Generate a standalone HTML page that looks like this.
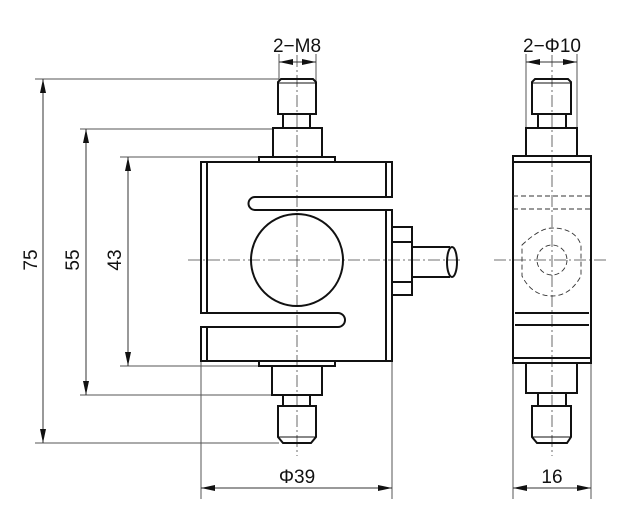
<!DOCTYPE html>
<html><head><meta charset="utf-8"><style>
html,body{margin:0;padding:0;background:#fff;width:622px;height:517px;overflow:hidden}
svg{display:block}
text{font-family:"Liberation Sans",sans-serif;font-size:19px;fill:#111}
</style></head><body>
<svg width="622" height="517" viewBox="0 0 622 517" xmlns="http://www.w3.org/2000/svg">
<defs>
<marker id="a" markerWidth="14" markerHeight="8" refX="14" refY="4" orient="auto" markerUnits="userSpaceOnUse">
<path d="M0,1 L14,4 L0,7 Z" fill="#111"/></marker>
</defs>
<g stroke="#444" stroke-width="0.8" stroke-dasharray="12,3,2,3" fill="none">
<line x1="297" y1="55" x2="297" y2="456"/>
<line x1="188" y1="260" x2="462" y2="260"/>
<line x1="552" y1="55" x2="552" y2="456"/>
<line x1="494" y1="260" x2="608" y2="260"/>
</g>
<g stroke="#555" stroke-width="1" fill="none">
<line x1="35" y1="79" x2="279" y2="79"/>
<line x1="35" y1="443" x2="279" y2="443"/>
<line x1="80" y1="129" x2="273" y2="129"/>
<line x1="80" y1="395" x2="273" y2="395"/>
<line x1="120" y1="157" x2="259" y2="157"/>
<line x1="120" y1="366" x2="259" y2="366"/>
<line x1="279" y1="54" x2="279" y2="82"/>
<line x1="316" y1="54" x2="316" y2="82"/>
<line x1="526" y1="54" x2="526" y2="130"/>
<line x1="577" y1="54" x2="577" y2="130"/>
<line x1="201" y1="362" x2="201" y2="499"/>
<line x1="392" y1="362" x2="392" y2="499"/>
<line x1="513" y1="362" x2="513" y2="499"/>
<line x1="591" y1="362" x2="591" y2="499"/>
</g>
<g stroke="#333" stroke-width="1" fill="none">
<line x1="43" y1="260" x2="43" y2="79" marker-end="url(#a)"/>
<line x1="43" y1="260" x2="43" y2="443" marker-end="url(#a)"/>
<line x1="86" y1="260" x2="86" y2="129" marker-end="url(#a)"/>
<line x1="86" y1="260" x2="86" y2="395" marker-end="url(#a)"/>
<line x1="128" y1="260" x2="128" y2="157" marker-end="url(#a)"/>
<line x1="128" y1="260" x2="128" y2="366" marker-end="url(#a)"/>
<line x1="297" y1="62" x2="279" y2="62" marker-end="url(#a)"/>
<line x1="297" y1="62" x2="316" y2="62" marker-end="url(#a)"/>
<line x1="552" y1="62" x2="526" y2="62" marker-end="url(#a)"/>
<line x1="552" y1="62" x2="577" y2="62" marker-end="url(#a)"/>
<line x1="297" y1="488" x2="201" y2="488" marker-end="url(#a)"/>
<line x1="297" y1="488" x2="392" y2="488" marker-end="url(#a)"/>
<line x1="552" y1="488" x2="513" y2="488" marker-end="url(#a)"/>
<line x1="552" y1="488" x2="591" y2="488" marker-end="url(#a)"/>
</g>
<text x="297" y="52" text-anchor="middle">2−M8</text>
<text x="552" y="52" text-anchor="middle">2−Φ10</text>
<text x="297" y="483" text-anchor="middle">Φ39</text>
<text x="552" y="483" text-anchor="middle">16</text>
<text transform="translate(37,260) rotate(-90)" text-anchor="middle">75</text>
<text transform="translate(79,260) rotate(-90)" text-anchor="middle">55</text>
<text transform="translate(121,260) rotate(-90)" text-anchor="middle">43</text>
<g stroke="#111" stroke-width="2" fill="none">
<path d="M278,114 V82 L281,79 H313 L316,82 V114 Z"/>
<rect x="283" y="114" width="27" height="14"/>
<rect x="273" y="128" width="49" height="29"/>
<rect x="259" y="157" width="76" height="5"/>
<path d="M278,406 V437 L283,443 H311 L316,437 V406 Z"/>
<rect x="283" y="395" width="27" height="11"/>
<rect x="272" y="366" width="50" height="29"/>
<rect x="259" y="361" width="76" height="5"/>
<path d="M201,313 V162 H392 V197 H255 A6.5,6.5 0 0 0 255,210 H392 V361 H201 V327 H338 A7,7 0 0 0 338,313 Z"/>
<line x1="207" y1="162" x2="207" y2="313"/>
<line x1="207" y1="327" x2="207" y2="361"/>
<line x1="386" y1="162" x2="386" y2="197"/>
<line x1="386" y1="210" x2="386" y2="361"/>
<circle cx="297" cy="260" r="46"/>
<rect x="392" y="227" width="20" height="68"/>
<line x1="392" y1="242" x2="412" y2="242"/>
<line x1="392" y1="282" x2="412" y2="282"/>
<path d="M412,247 H450 M412,277 H450"/>
<ellipse cx="452" cy="262" rx="5" ry="15"/>
</g>
<g stroke="#111" stroke-width="1" fill="none">
<line x1="278" y1="83" x2="316" y2="83"/>
<line x1="278" y1="437" x2="316" y2="437"/>
<line x1="532" y1="83" x2="571" y2="83"/>
<line x1="532" y1="437" x2="571" y2="437"/>
</g>
<g stroke="#111" stroke-width="2" fill="none">
<path d="M532,114 V82 L535,79 H568 L571,82 V114 Z"/>
<rect x="538" y="114" width="28" height="14"/>
<rect x="526" y="128" width="51" height="28"/>
<rect x="513" y="156" width="78" height="207"/>
<line x1="513" y1="162" x2="591" y2="162"/>
<line x1="515" y1="313" x2="589" y2="313"/>
<line x1="515" y1="325" x2="589" y2="325"/>
<line x1="513" y1="358" x2="591" y2="358"/>
<rect x="526" y="363" width="51" height="30"/>
<rect x="538" y="393" width="28" height="13"/>
<path d="M532,406 V437 L537,443 H567 L571,437 V406 Z"/>
</g>
<g stroke="#333" stroke-width="0.9" fill="none" stroke-dasharray="5,3">
<line x1="513" y1="196" x2="591" y2="196"/>
<line x1="513" y1="209" x2="591" y2="209"/>
<path d="M522,245 Q540,228 552,228 Q575,228 581,245 V276 Q570,296 552,296 Q532,296 522,276 Z"/>
<circle cx="552" cy="260" r="15"/>
</g>
</svg>
</body></html>
